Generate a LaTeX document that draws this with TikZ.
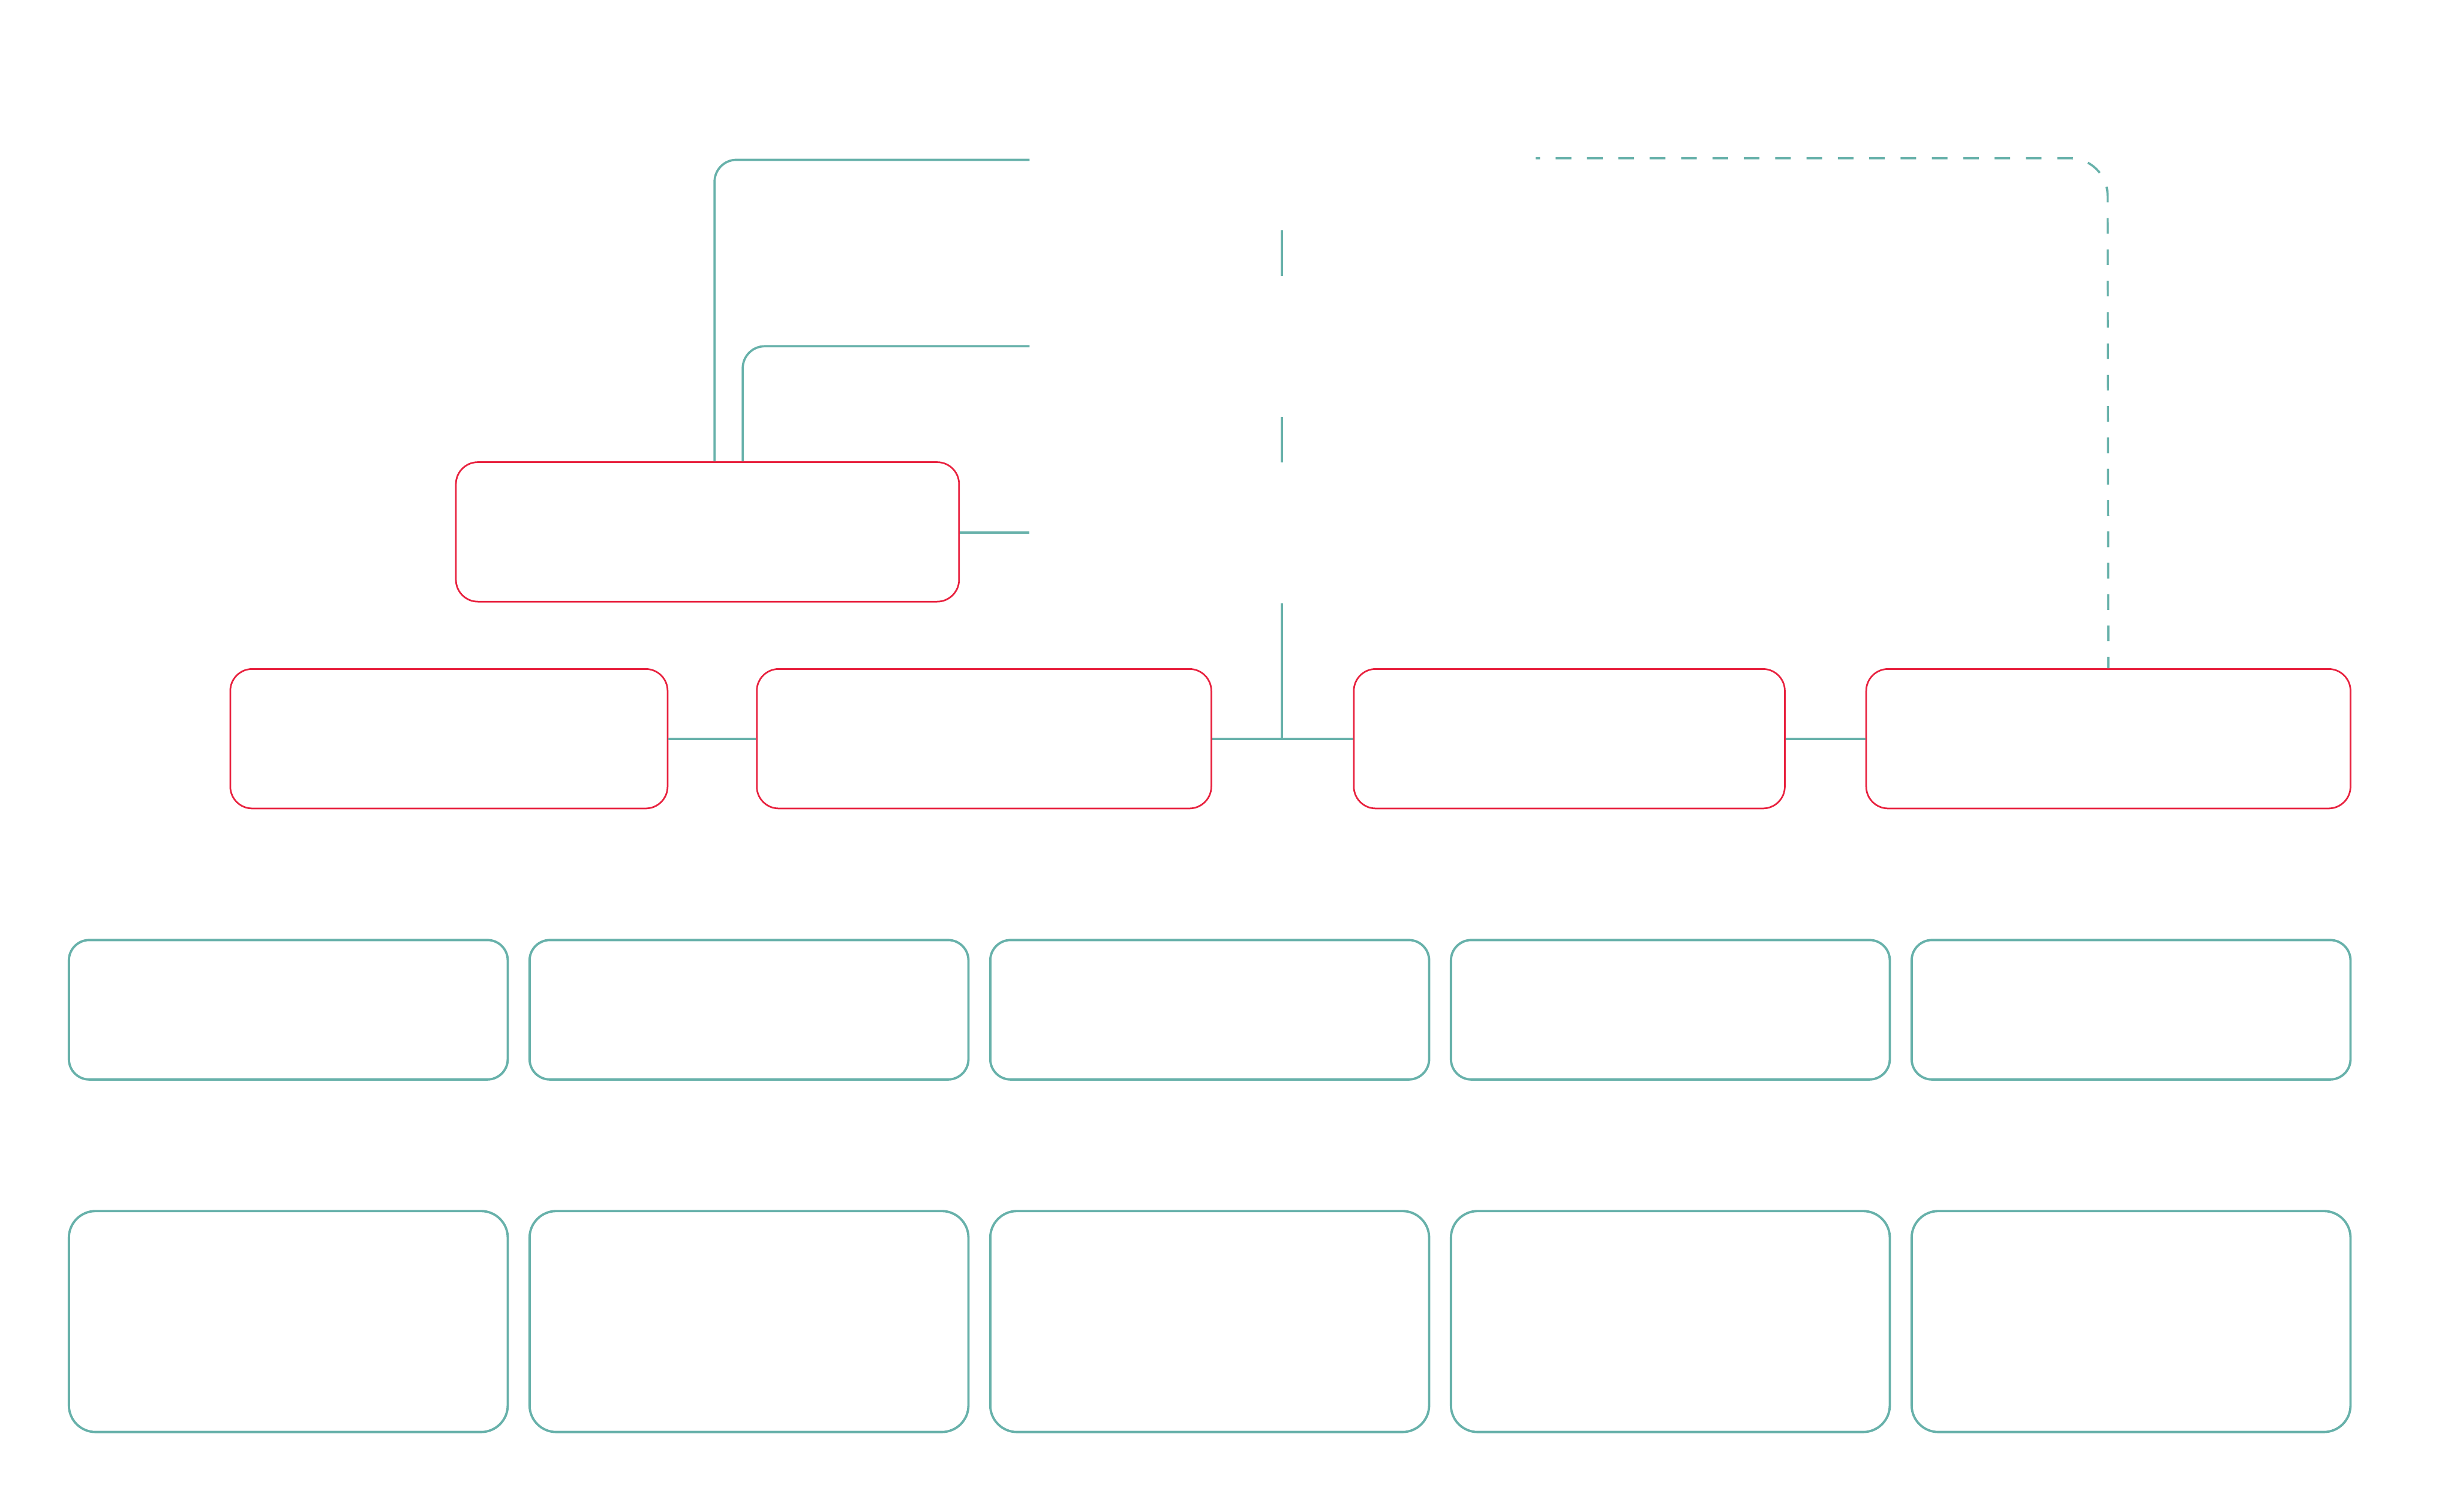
\documentclass[tikz,border=0pt]{standalone}
\usepackage{tikz}
\usetikzlibrary{calc}
\definecolor{rot}{HTML}{E8223F}
\definecolor{tuerkis}{HTML}{67B1AA}
\tikzset{
  rotbox/.style={draw=rot,line width=0.75pt,rounded corners=0.35cm,
    minimum height=2.225cm,inner sep=0pt},
  kastenA/.style={draw=tuerkis,line width=1.05pt,rounded corners=0.325cm,
    minimum width=7cm,minimum height=2.225cm,inner sep=0pt},
  kastenB/.style={draw=tuerkis,line width=1.05pt,rounded corners=0.425cm,
    minimum width=7cm,minimum height=3.525cm,inner sep=0pt},
  verb/.style={tuerkis,line width=1pt},
  verbd/.style={tuerkis,line width=1pt,dash pattern=on 0.25cm off 0.25cm,dash phase=0.18cm},
}

\begin{document}
\begin{tikzpicture}[x=0.025cm,y=-0.025cm]
  \useasboundingbox (0,0) rectangle (1568,965);
  % obere Reihe
  \node[rotbox,minimum width=8.025cm] (A) at (451.5,339.5) {};
  \node[rotbox,minimum width=6.975cm] (B1) at (286.5,471.5) {};
  \node[rotbox,minimum width=7.25cm] (B2) at (628,471.5) {};
  \node[rotbox,minimum width=6.875cm] (B3) at (1001.5,471.5) {};
  \node[rotbox,minimum width=7.725cm] (B4) at (1345.5,471.5) {};
  % untere Kaesten
  \node[kastenA] (u1) at (184,644.5) {};
  \node[kastenA] (u2) at (478,644.5) {};
  \node[kastenA] (u3) at (772,644.5) {};
  \node[kastenA] (u4) at (1066,644.5) {};
  \node[kastenA] (u5) at (1360,644.5) {};
  \node[kastenB] (v1) at (184,843.5) {};
  \node[kastenB] (v2) at (478,843.5) {};
  \node[kastenB] (v3) at (772,843.5) {};
  \node[kastenB] (v4) at (1066,843.5) {};
  \node[kastenB] (v5) at (1360,843.5) {};
  % freie Enden
  \coordinate (k1) at (456,102);
  \coordinate (e1) at (657,102);
  \coordinate (k2) at (474,221);
  \coordinate (e2) at (657,221);
  \coordinate (e3) at (657,340);
  \coordinate (s1) at (818,147);
  \coordinate (s2) at (818,176);
  \coordinate (s3) at (818,266);
  \coordinate (s4) at (818,295);
  \coordinate (s5) at (818,385);
  \coordinate (d1) at (980,101);
  \coordinate (d2) at (1345,101);
  % Verbindungen
  \draw[verb,rounded corners=0.35cm] (A.north -| k1) -- (k1) -- (e1);
  \draw[verb,rounded corners=0.35cm] (A.north -| k2) -- (k2) -- (e2);
  \draw[verb] (A.east |- e3) -- (e3);
  \draw[verb] (s1) -- (s2);
  \draw[verb] (s3) -- (s4);
  \draw[verb] (s5) -- (s5 |- B2.east);
  \draw[verb] (B1.east) -- (B2.west);
  \draw[verb] (B2.east) -- (B3.west);
  \draw[verb] (B3.east) -- (B4.west);
  \draw[verbd,rounded corners=0.6cm] (d1) -- (d2) -- (B4.north);
\end{tikzpicture}
\end{document}
